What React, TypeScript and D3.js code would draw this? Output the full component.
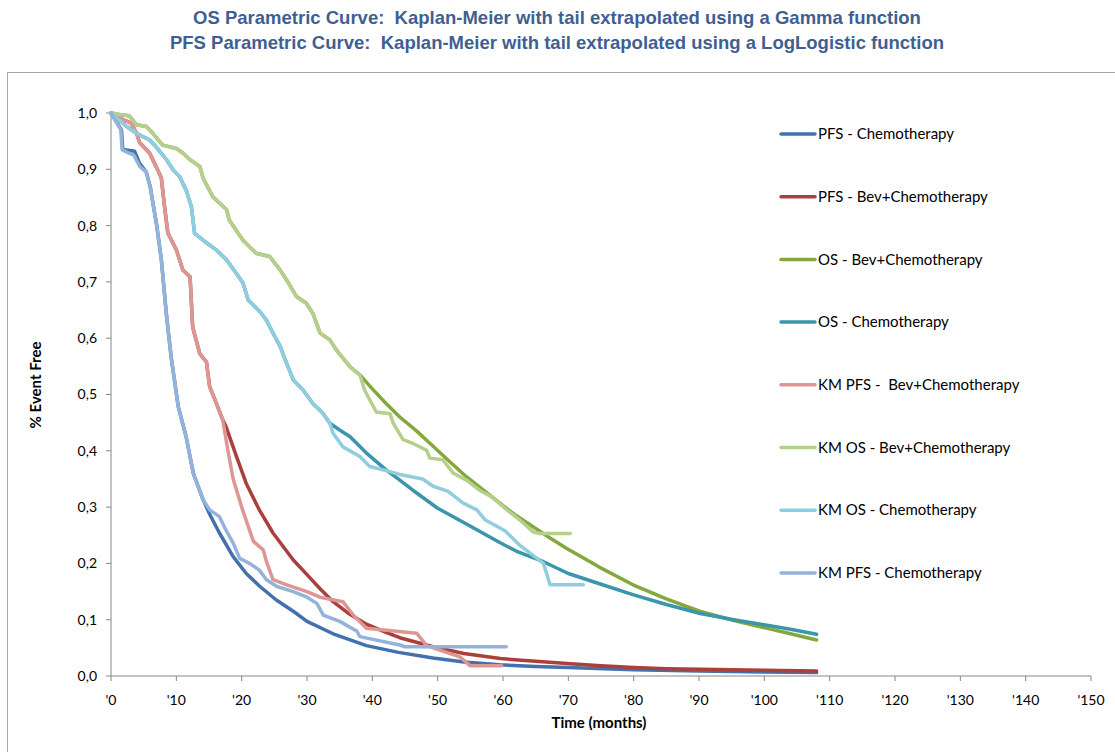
import React from "react";
import * as d3 from "d3";

type Pt = [number, number];

// Parametric curves (month, survival)
const pfsChemo: Pt[] = [
  [0, 1], [1.6, 0.97], [1.8, 0.935], [3.6, 0.932], [4.4, 0.91], [5.4, 0.895], [6, 0.869], [7, 0.8],
  [7.7, 0.74], [8.5, 0.64], [9.2, 0.567], [10.3, 0.478], [11.5, 0.425], [12.6, 0.36], [14.1, 0.313],
  [15.2, 0.285], [16.6, 0.254], [18.7, 0.212], [20.7, 0.182], [22.8, 0.159], [25.3, 0.135], [27.9, 0.115],
  [30, 0.097], [34, 0.075], [39.1, 0.054], [44, 0.042], [49.3, 0.032], [54, 0.025], [59.5, 0.02],
  [65, 0.017], [70, 0.015], [80, 0.011], [90, 0.009], [100, 0.007], [108, 0.006],
];
const pfsBev: Pt[] = [
  [0, 1], [1.9, 0.988], [3.1, 0.982], [3.9, 0.964], [4.4, 0.947], [5.9, 0.929], [6.9, 0.905], [7.7, 0.885],
  [8.2, 0.833], [8.7, 0.787], [10, 0.757], [11, 0.721], [12.1, 0.709], [12.5, 0.62], [13.6, 0.572],
  [14.6, 0.558], [15.1, 0.514], [16.1, 0.485], [17.1, 0.455], [17.6, 0.443], [19.2, 0.39], [20.7, 0.342],
  [22.7, 0.295], [24.8, 0.254], [27.9, 0.206], [30, 0.18], [32, 0.155], [34, 0.132], [36.5, 0.11],
  [39.1, 0.092], [42, 0.078], [44.2, 0.068], [49.3, 0.052], [54, 0.04], [59.6, 0.031], [65, 0.026],
  [69.8, 0.022], [75, 0.018], [80, 0.015], [85, 0.013], [90.2, 0.012], [100, 0.01], [108, 0.009],
];
const osBev: Pt[] = [
  [0, 1], [1.5, 0.997], [2.8, 0.995], [3.9, 0.979], [5.4, 0.976], [6.4, 0.964], [7.9, 0.943], [10, 0.937],
  [11, 0.929], [12.1, 0.917], [13.6, 0.905], [14.1, 0.884], [15.6, 0.851], [17.7, 0.828], [18.1, 0.81],
  [20.2, 0.774], [22.2, 0.751], [24.3, 0.745], [25.9, 0.721], [26.9, 0.703], [28.4, 0.674], [29.9, 0.662],
  [30.9, 0.644], [32, 0.609], [33.5, 0.597], [34.5, 0.579], [36.6, 0.549], [38.1, 0.535], [40, 0.51],
  [42.1, 0.484], [44.2, 0.46], [46.8, 0.435], [49.3, 0.408], [51.9, 0.38], [54.4, 0.354], [57, 0.33],
  [59.5, 0.307], [62, 0.285], [64.6, 0.265], [67.2, 0.245], [69.7, 0.227], [74.8, 0.193], [79.9, 0.162],
  [85, 0.137], [90.1, 0.115], [95.2, 0.099], [100.3, 0.085], [104, 0.075], [108, 0.064],
];
const osChemo: Pt[] = [
  [0, 1], [2.4, 0.976], [3.9, 0.964], [5.9, 0.952], [6.9, 0.94], [8.5, 0.917], [9.5, 0.899], [10.5, 0.887],
  [11.5, 0.863], [12.3, 0.834], [12.8, 0.786], [14.1, 0.774], [16.1, 0.757], [17.7, 0.739], [19.2, 0.715],
  [20.2, 0.698], [21, 0.668], [22.8, 0.647], [23.8, 0.632], [24.8, 0.609], [25.9, 0.585], [26.9, 0.555],
  [27.9, 0.526], [29.4, 0.508], [30.9, 0.484], [32.4, 0.467], [33.5, 0.449], [35, 0.437], [36.6, 0.425],
  [39.1, 0.396], [42.1, 0.366], [44.2, 0.348], [46.2, 0.33], [50, 0.298], [54.4, 0.27], [59.5, 0.237],
  [62, 0.222], [66.2, 0.203], [70, 0.182], [75, 0.163], [80, 0.144], [85, 0.127], [90.2, 0.111],
  [95.3, 0.1], [100.4, 0.09], [104, 0.083], [108, 0.074],
];

// Kaplan-Meier curves
const kmPfsBev: Pt[] = [
  [0, 1], [1.9, 0.988], [3.1, 0.982], [3.9, 0.964], [4.4, 0.947], [5.9, 0.929], [6.9, 0.905], [7.7, 0.885],
  [8.2, 0.833], [8.7, 0.787], [10, 0.757], [11, 0.721], [12.1, 0.709], [12.5, 0.62], [13.6, 0.572],
  [14.6, 0.558], [15.1, 0.514], [16.1, 0.485], [17.1, 0.455], [17.9, 0.4], [18.7, 0.35], [20, 0.3],
  [21.2, 0.259], [21.8, 0.239], [23.3, 0.224], [23.8, 0.203], [24.8, 0.171], [26.9, 0.162], [30, 0.15],
  [32, 0.14], [35.5, 0.132], [37.1, 0.108], [39.1, 0.085], [46.8, 0.076], [48.3, 0.054], [53.4, 0.034],
  [55, 0.018], [59.8, 0.018],
];
const kmOsBev: Pt[] = [
  [0, 1], [1.5, 0.997], [2.8, 0.995], [3.9, 0.979], [5.4, 0.976], [6.4, 0.964], [7.9, 0.943], [10, 0.937],
  [11, 0.929], [12.1, 0.917], [13.6, 0.905], [14.1, 0.884], [15.6, 0.851], [17.7, 0.828], [18.1, 0.81],
  [20.2, 0.774], [22.2, 0.751], [24.3, 0.745], [25.9, 0.721], [26.9, 0.703], [28.4, 0.674], [29.9, 0.662],
  [30.9, 0.644], [32, 0.609], [33.5, 0.597], [34.5, 0.579], [36.6, 0.549], [38.1, 0.535], [38.8, 0.508],
  [40.6, 0.469], [42.7, 0.466], [43.2, 0.449], [44.7, 0.42], [46.2, 0.413], [48.3, 0.401], [48.8, 0.387],
  [50.8, 0.384], [52.4, 0.36], [54.4, 0.348], [56.4, 0.33], [58.3, 0.318], [60.6, 0.295], [62.6, 0.277],
  [64.6, 0.256], [65.6, 0.253], [70.3, 0.253],
];
const kmOsChemo: Pt[] = [
  [0, 1], [2.4, 0.976], [3.9, 0.964], [5.9, 0.952], [6.9, 0.94], [8.5, 0.917], [9.5, 0.899], [10.5, 0.887],
  [11.5, 0.863], [12.3, 0.834], [12.8, 0.786], [14.1, 0.774], [16.1, 0.757], [17.7, 0.739], [19.2, 0.715],
  [20.2, 0.698], [21, 0.668], [22.8, 0.647], [23.8, 0.632], [24.8, 0.609], [25.9, 0.585], [26.9, 0.555],
  [27.9, 0.526], [29.4, 0.508], [30.9, 0.484], [32.4, 0.467], [33.5, 0.449], [34, 0.431], [35.5, 0.407],
  [38.1, 0.39], [39.6, 0.372], [42.7, 0.363], [44.2, 0.358], [47.7, 0.35], [49.3, 0.337], [51.6, 0.328],
  [53.9, 0.307], [56, 0.295], [57.3, 0.277], [60.3, 0.258], [62.6, 0.232], [66.2, 0.2], [67.2, 0.162],
  [72.3, 0.162],
];
const kmPfsChemo: Pt[] = [
  [0, 1], [1.5, 0.97], [1.7, 0.935], [2.5, 0.93], [3.5, 0.925], [4.4, 0.905], [5.4, 0.895], [6, 0.869],
  [7, 0.8], [7.7, 0.74], [8.5, 0.64], [9.2, 0.567], [10.3, 0.478], [11.5, 0.425], [12.6, 0.36],
  [14.1, 0.313], [15.1, 0.295], [16.6, 0.283], [17.6, 0.259], [18.7, 0.236], [19.7, 0.209], [21.2, 0.2],
  [22.7, 0.188], [23.8, 0.171], [25.4, 0.159], [27.9, 0.15], [30, 0.14], [31.5, 0.129], [32.5, 0.108],
  [35, 0.097], [37.6, 0.08], [38.1, 0.07], [44.2, 0.055], [45, 0.052], [60.5, 0.052],
];

const seriesNames = [
  "PFS - Chemotherapy",
  "PFS - Bev+Chemotherapy",
  "OS - Bev+Chemotherapy",
  "OS - Chemotherapy",
  "KM PFS -  Bev+Chemotherapy",
  "KM OS - Bev+Chemotherapy",
  "KM OS - Chemotherapy",
  "KM PFS - Chemotherapy",
];
const seriesColors = ["#4370AE", "#AA3F3C", "#85A83D", "#3A95AD", "#DE9694", "#B5CF8D", "#90CDDF", "#94B3DB"];
const seriesData = [pfsChemo, pfsBev, osBev, osChemo, kmPfsBev, kmOsBev, kmOsChemo, kmPfsChemo];

const xTicks = d3.range(0, 151, 10);
const yTicks = d3.range(0, 1.01, 0.1);

const titleLines = [
  "OS Parametric Curve:  Kaplan-Meier with tail extrapolated using a Gamma function",
  "PFS Parametric Curve:  Kaplan-Meier with tail extrapolated using a LogLogistic function",
];

export default function App() {
  const W = 1115, H = 752;
  const x = d3.scaleLinear().domain([0, 150]).range([111, 1091]);
  const y = d3.scaleLinear().domain([0, 1]).range([676, 113]);
  const line = d3.line<Pt>().x((d) => x(d[0])).y((d) => y(d[1]));
  const axisColor = "#868686";
  const font = "Lato, 'Open Sans', sans-serif";

  return (
    <svg width={W} height={H} style={{ position: "absolute", left: 0, top: 0, background: "#fff" }}>
      <rect x={0} y={0} width={W} height={H} fill="#fff" />
      {titleLines.map((t, i) => (
        <text key={i} x={557} y={24 + i * 25} textAnchor="middle" fontFamily="'Liberation Sans', Arial, sans-serif"
          fontWeight="bold" fontSize={18.5} fill="#3F5F93" style={{ whiteSpace: "pre" }}>{t}</text>
      ))}
      <rect x={7.5} y={72.5} width={1200} height={800} fill="none" stroke="#A6A6A6" strokeWidth={1} />

      {/* axes */}
      <line x1={x(0)} x2={x(150)} y1={y(0)} y2={y(0)} stroke={axisColor} strokeWidth={1} />
      <line x1={x(0)} x2={x(0)} y1={y(0)} y2={y(1)} stroke={axisColor} strokeWidth={1} />
      {yTicks.map((v) => (
        <g key={"y" + v}>
          <line x1={x(0) - 5} x2={x(0)} y1={y(v)} y2={y(v)} stroke={axisColor} />
          <text x={x(0) - 14} y={y(v)} dy="0.35em" textAnchor="end" fontFamily={font} fontSize={14} fill="#000">
            {v.toFixed(1).replace(".", ",")}
          </text>
        </g>
      ))}
      {xTicks.map((v) => (
        <g key={"x" + v}>
          <line x1={x(v)} x2={x(v)} y1={y(0)} y2={y(0) + 5} stroke={axisColor} />
          <text x={x(v)} y={y(0) + 29} textAnchor="middle" fontFamily={font} fontSize={14} fill="#000">
            {"'" + v}
          </text>
        </g>
      ))}
      <text x={599} y={728} textAnchor="middle" fontFamily={font} fontWeight="bold" fontSize={15}>Time (months)</text>
      <text transform={`translate(41,385) rotate(-90)`} textAnchor="middle" fontFamily={font} fontWeight="bold" fontSize={15}>% Event Free</text>

      {/* curves */}
      {seriesData.map((d, i) => (
        <path key={i} d={line(d) || ""} fill="none" stroke={seriesColors[i]} strokeWidth={3.5}
          strokeLinejoin="round" strokeLinecap="round" />
      ))}

      {/* legend */}
      {seriesNames.map((n, i) => {
        const ly = 134 + i * 62.7;
        return (
          <g key={n}>
            <line x1={781} x2={815} y1={ly} y2={ly} stroke={seriesColors[i]} strokeWidth={3.5} strokeLinecap="round" />
            <text x={818} y={ly} dy="0.35em" fontFamily={font} fontSize={15} fill="#000" style={{ whiteSpace: "pre" }}>{n}</text>
          </g>
        );
      })}
    </svg>
  );
}
